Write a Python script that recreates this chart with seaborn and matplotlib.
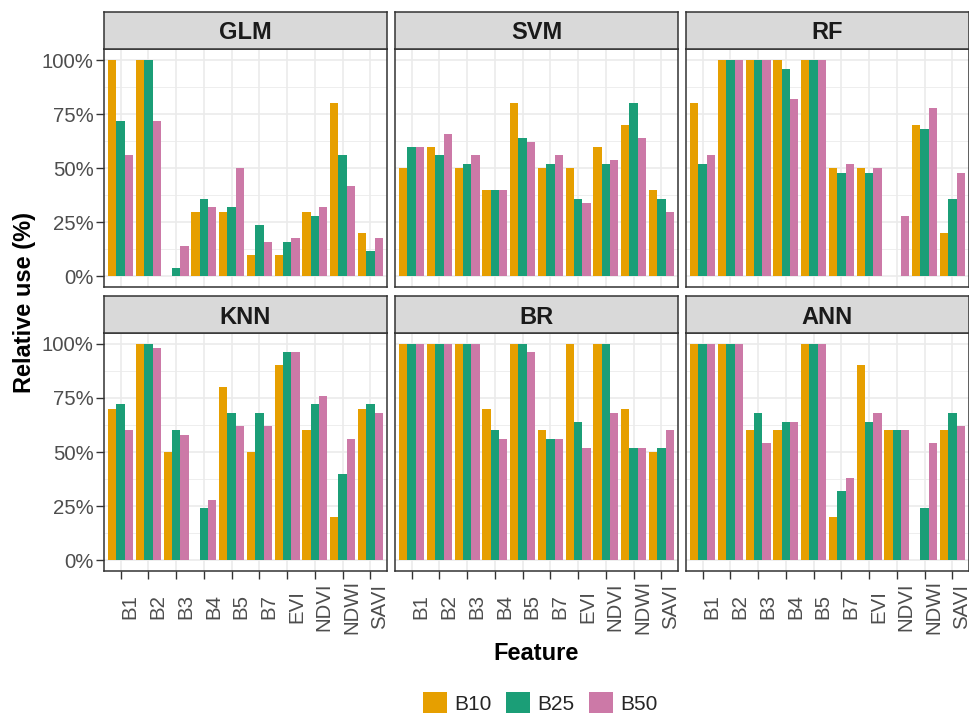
import numpy as np
import pandas as pd
import matplotlib
matplotlib.use("Agg")
import matplotlib.pyplot as plt
from matplotlib.patches import Patch
from matplotlib.ticker import MultipleLocator, FixedLocator
import seaborn as sns

# ---- data -------------------------------------------------------------
features = ["B1", "B2", "B3", "B4", "B5", "B7", "EVI", "NDVI", "NDWI", "SAVI"]
models = ["GLM", "SVM", "RF", "KNN", "BR", "ANN"]
buffers = ["B10", "B25", "B50"]

glm_b10 = [100, 100, 0, 30, 30, 10, 10, 30, 80, 20]
glm_b25 = [72, 100, 4, 36, 32, 24, 16, 28, 56, 12]
glm_b50 = [56, 72, 14, 32, 50, 16, 18, 32, 42, 18]

svm_b10 = [50, 60, 50, 40, 80, 50, 50, 60, 70, 40]
svm_b25 = [60, 56, 52, 40, 64, 52, 36, 52, 80, 36]
svm_b50 = [60, 66, 56, 40, 62, 56, 34, 54, 64, 30]

rf_b10 = [80, 100, 100, 100, 100, 50, 50, 0, 70, 20]
rf_b25 = [52, 100, 100, 96, 100, 48, 48, 0, 68, 36]
rf_b50 = [56, 100, 100, 82, 100, 52, 50, 28, 78, 48]

knn_b10 = [70, 100, 50, 0, 80, 50, 90, 60, 20, 70]
knn_b25 = [72, 100, 60, 24, 68, 68, 96, 72, 40, 72]
knn_b50 = [60, 98, 58, 28, 62, 62, 96, 76, 56, 68]

br_b10 = [100, 100, 100, 70, 100, 60, 100, 100, 70, 50]
br_b25 = [100, 100, 100, 60, 100, 56, 64, 100, 52, 52]
br_b50 = [100, 100, 100, 56, 96, 56, 52, 68, 52, 60]

ann_b10 = [100, 100, 60, 60, 100, 20, 90, 60, 0, 60]
ann_b25 = [100, 100, 68, 64, 100, 32, 64, 60, 24, 68]
ann_b50 = [100, 100, 54, 64, 100, 38, 68, 60, 54, 62]

yticks = [0, 25, 50, 75, 100]
ytick_labels = ["0%", "25%", "50%", "75%", "100%"]

colors = ["#E69F00", "#1B9E77", "#CC79A7"]

series = {
    "GLM": [glm_b10, glm_b25, glm_b50],
    "SVM": [svm_b10, svm_b25, svm_b50],
    "RF": [rf_b10, rf_b25, rf_b50],
    "KNN": [knn_b10, knn_b25, knn_b50],
    "BR": [br_b10, br_b25, br_b50],
    "ANN": [ann_b10, ann_b25, ann_b50],
}

rows = []
for m in models:
    for b, vals in zip(buffers, series[m]):
        for f, v in zip(features, vals):
            rows.append({"Model": m, "Buffer": b, "Feature": f, "Value": v})
df = pd.DataFrame(rows)

# ---- style ------------------------------------------------------------
sns.set_style("white")
plt.rcParams["font.family"] = ["Liberation Sans", "DejaVu Sans"]

W, H = 970, 717
fig = plt.figure(figsize=(W / 100, H / 100), dpi=100)

col_left = [104, 395, 686]
panel_w = 283
strip_tops = [11.7, 296]
strip_h = 37.3
panel_bottoms = [287.3, 571]
panel_h = 238

border = "#333333"
grid_c = "#EBEBEB"
tick_c = "#4D4D4D"


def fx(px):
    return px / W


def fy(py):
    return 1 - py / H


for i, m in enumerate(models):
    r, c = divmod(i, 3)
    left = col_left[c]
    # panel
    ax = fig.add_axes([fx(left), fy(panel_bottoms[r]), panel_w / W, panel_h / H])
    sub = df[df["Model"] == m]
    sns.barplot(data=sub, x="Feature", y="Value", hue="Buffer",
                order=features, hue_order=buffers, palette=colors,
                width=0.9, saturation=1, errorbar=None, legend=False,
                linewidth=0, ax=ax)
    ax.set_xlim(-0.6, len(features) - 0.4)
    ax.set_ylim(-5, 105)
    ax.set_facecolor("white")
    ax.set_axisbelow(True)
    ax.yaxis.set_major_locator(FixedLocator(yticks))
    ax.yaxis.set_minor_locator(MultipleLocator(12.5))
    ax.set_xticks(range(len(features)))
    ax.grid(which="major", color=grid_c, linewidth=1.2)
    ax.grid(which="minor", axis="y", color=grid_c, linewidth=0.6)
    for s in ax.spines.values():
        s.set_color(border)
        s.set_linewidth(1.1)
        s.set_visible(True)
    ax.set_xlabel("")
    ax.set_ylabel("")
    ax.tick_params(which="minor", length=0)

    if c == 0:
        ax.set_yticklabels(ytick_labels)
        ax.tick_params(axis="y", which="major", length=5.8, width=1.0,
                       color=border, labelsize=14.7, labelcolor=tick_c, pad=1.5,
                       left=True)
    else:
        ax.tick_params(axis="y", which="major", length=0, labelleft=False)

    if r == 1:
        ax.set_xticklabels(features, rotation=90, ha="left", va="center")
        ax.tick_params(axis="x", which="major", length=5.8, width=1.0,
                       color=border, labelsize=14.7, labelcolor=tick_c, pad=20,
                       bottom=True)
    else:
        ax.tick_params(axis="x", which="major", length=0, labelbottom=False)

    # facet strip
    sax = fig.add_axes([fx(left), fy(strip_tops[r] + strip_h), panel_w / W, strip_h / H])
    sax.set_facecolor("#D9D9D9")
    sax.set_xticks([])
    sax.set_yticks([])
    for s in sax.spines.values():
        s.set_color(border)
        s.set_linewidth(1.1)
    sax.text(0.5, 0.5, m, ha="center", va="center_baseline", fontsize=17,
             fontweight="bold", color="#1A1A1A", transform=sax.transAxes)

# axis titles
fig.text(fx(25), fy(303), "Relative use (%)", rotation=90, ha="center", va="center",
         fontsize=17, fontweight="bold", color="black")
fig.text(fx(536.5), fy(653), "Feature", ha="center", va="center",
         fontsize=17, fontweight="bold", color="black")

# legend
handles = [Patch(facecolor=col, edgecolor="none", label=b) for col, b in zip(colors, buffers)]
fig.legend(handles=handles, loc="center", bbox_to_anchor=(fx(540), fy(703)), ncol=3,
           frameon=False, fontsize=15, handlelength=1.15, handleheight=1.15,
           handletextpad=0.35, columnspacing=0.7, borderaxespad=0)

fig.savefig("out.png", dpi=100, facecolor="white")
